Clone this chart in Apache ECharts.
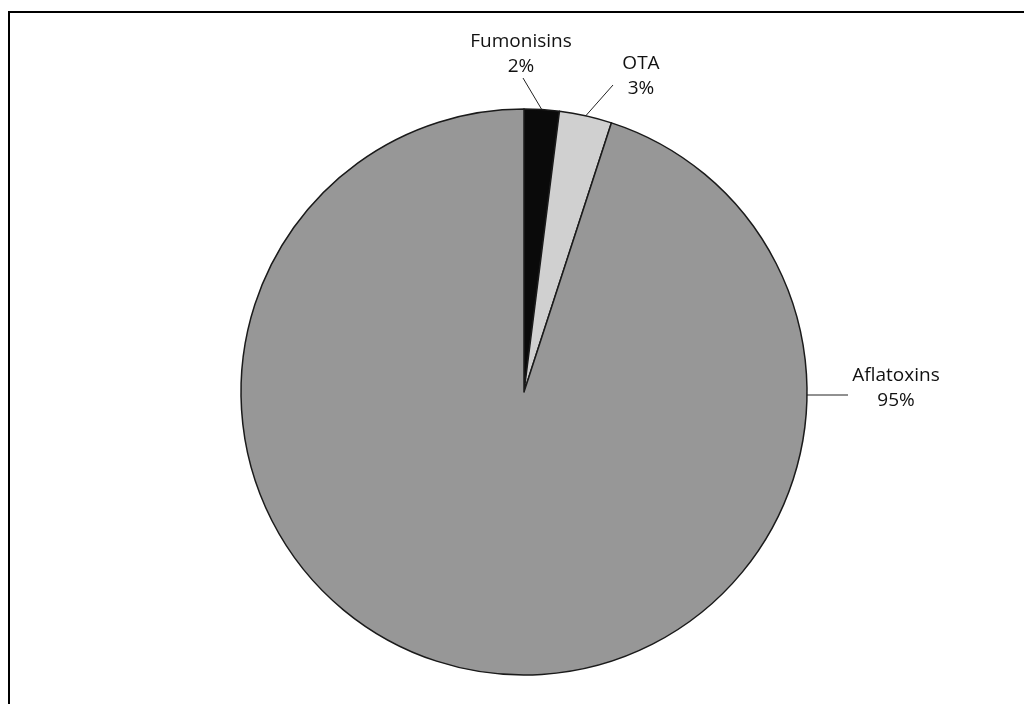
<!DOCTYPE html>
<html>
<head>
<meta charset="utf-8">
<script src="https://cdn.jsdelivr.net/npm/echarts@6/dist/echarts.min.js"></script>
<style>
  html, body { margin: 0; padding: 0; background: #fff; }
  #main { width: 1024px; height: 704px; }
</style>
</head>
<body>
<div id="main"></div>
<script>
// data
const categories = ['Fumonisins', 'OTA', 'Aflatoxins'];
const values = [2, 3, 95];
const colors = ['#0a0a0a', '#d0d0d0', '#979797'];

// pie geometry
const cx = 524, cy = 392, r = 283;

// where each label sits (text centre) and where its leader ends
const labelSpots = [
  { x: 521, y: 54, end: [523, 78] },
  { x: 641, y: 76, end: [613, 85] },
  { x: 896, y: 388, end: [848, 395] }
];

const chart = echarts.init(document.getElementById('main'));

const option = {
  animation: false,
  graphic: [
    {
      type: 'polyline',
      shape: { points: [[9, 704], [9, 12], [1024, 12]] },
      style: { stroke: '#000', lineWidth: 2, fill: null }
    }
  ],
  series: [
    {
      type: 'pie',
      center: [cx, cy],
      radius: r,
      startAngle: 90,
      clockwise: true,
      avoidLabelOverlap: false,
      data: categories.map((name, i) => ({
        name: name,
        value: values[i],
        itemStyle: { color: colors[i] }
      })),
      itemStyle: { borderColor: '#1a1a1a', borderWidth: 1.5 },
      label: {
        show: true,
        formatter: '{b}\n{d}%',
        fontFamily: 'Open Sans',
        fontSize: 19,
        lineHeight: 25,
        color: '#111',
        align: 'center'
      },
      labelLine: {
        show: true,
        lineStyle: { color: '#222', width: 1 }
      },
      labelLayout: function (params) {
        const spot = labelSpots[params.dataIndex];
        let start = params.labelLinePoints ? params.labelLinePoints[0] : [cx, cy - r];
        if (params.dataIndex === 2) start = [cx + r - 3, cy + 3];
        return {
          x: spot.x,
          y: spot.y,
          align: 'center',
          verticalAlign: 'middle',
          labelLinePoints: [start, spot.end, spot.end]
        };
      }
    }
  ]
};

chart.setOption(option);
</script>
</body>
</html>
